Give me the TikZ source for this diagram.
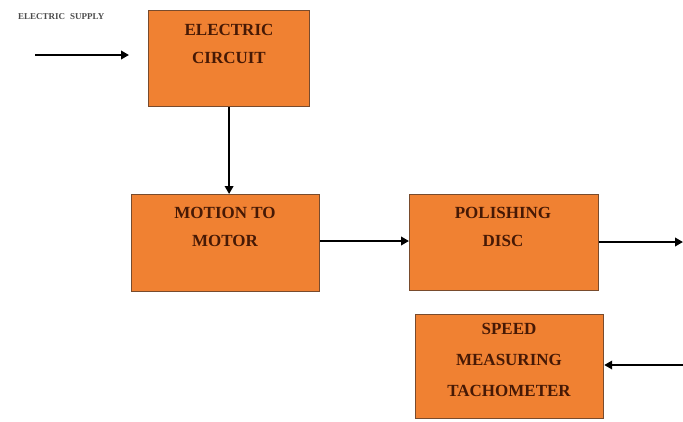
\documentclass[tikz,border=0pt]{standalone}
\usepackage{fontspec}
\setmainfont{Liberation Serif}
\usetikzlibrary{arrows.meta}
\definecolor{boxfill}{RGB}{240,129,50}
\definecolor{boxline}{RGB}{120,75,45}
\definecolor{boxtext}{RGB}{70,25,5}
\begin{document}
\begin{tikzpicture}[x=1pt,y=-1pt,
  blk/.style={draw=boxline,line width=1.2pt,fill=boxfill,anchor=north west,inner sep=0pt},
  lbl/.style={text=boxtext,align=center,font=\fontsize{17}{28}\selectfont\bfseries},
  conn/.style={line width=2.2pt,-{Triangle[length=8pt,width=8.5pt]}}]
\useasboundingbox (0,0) rectangle (683,421);
\node[blk,minimum width=161pt,minimum height=96pt] (ec) at (148,10) {};
\node[lbl] (ect) at (229,44) {ELECTRIC\\CIRCUIT};
\node[blk,minimum width=188pt,minimum height=97pt] (mm) at (131,194) {};
\node[lbl] (mmt) at (225,227) {MOTION TO\\MOTOR};
\node[blk,minimum width=189pt,minimum height=96pt] (pd) at (409,194) {};
\node[lbl] (pdt) at (503,227) {POLISHING\\DISC};
\node[blk,minimum width=188pt,minimum height=104pt] (tc) at (415,314) {};
\node[lbl,font=\fontsize{17}{31}\selectfont\bfseries] (tct) at (509,360) {SPEED\\MEASURING\\TACHOMETER};
\node[font=\fontsize{9}{10}\selectfont\bfseries,text=black!70,anchor=west,inner sep=0pt] (es) at (18,17) {ELECTRIC\hspace{5pt}SUPPLY};
\coordinate (s0) at (35,55);
\coordinate (s1) at (129,55);
\coordinate (r1) at (683,242);
\coordinate (r2) at (683,365);
\draw[conn] (s0) -- (s1);
\draw[conn] (ec.south) -- (ec.south |- mm.north);
\draw[conn] (mm.east |- 0,241) -- (pd.west |- 0,241);
\draw[conn] (pd.east |- r1) -- (r1);
\draw[conn] (r2) -- (tc.east |- r2);
\end{tikzpicture}
\end{document}
